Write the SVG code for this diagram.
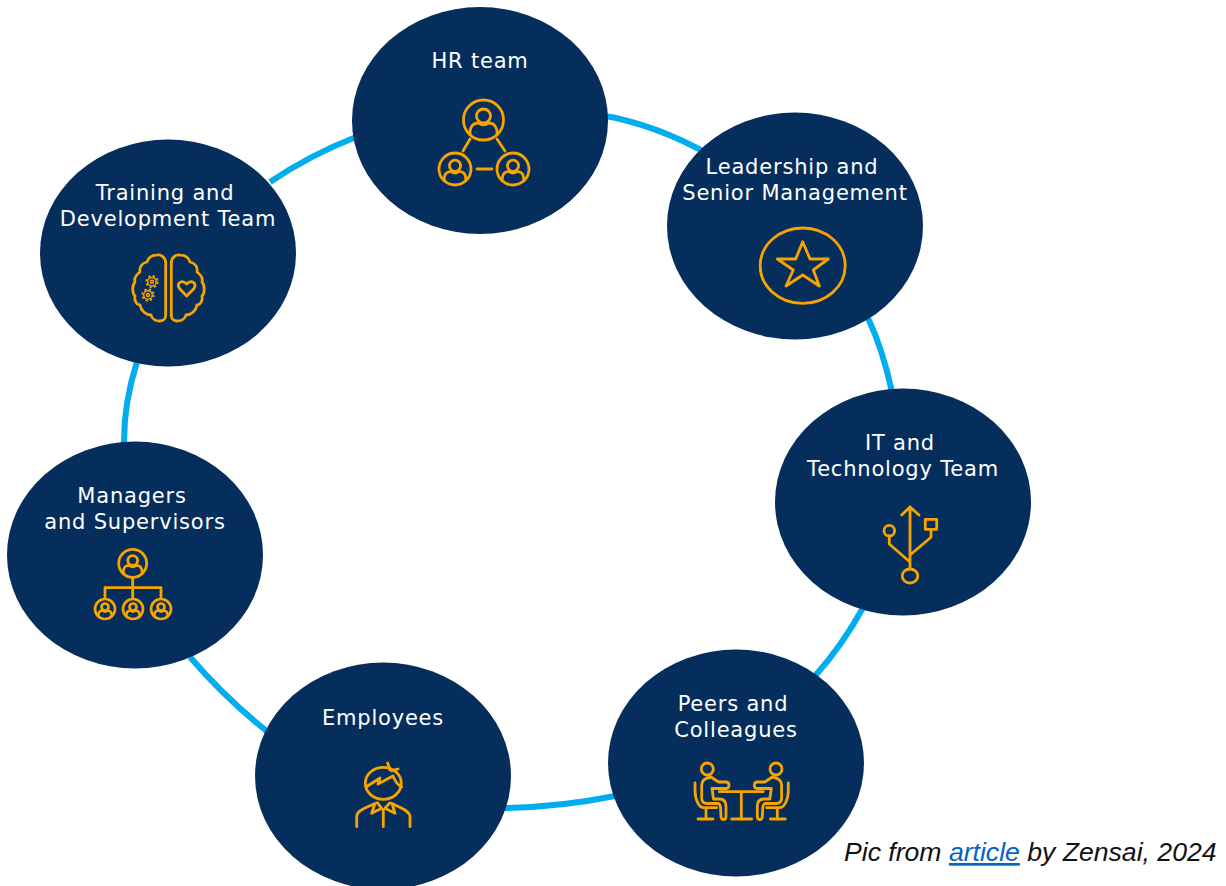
<svg xmlns="http://www.w3.org/2000/svg" width="1226" height="886" viewBox="0 0 1226 886">
<style>
.n{fill:#052E5C}
.t{font-family:"DejaVu Sans","Open Sans","Liberation Sans",sans-serif;font-size:21px;letter-spacing:.8px;fill:#fff;text-anchor:middle}
.i{fill:none;stroke:#F5A400;stroke-width:2.800;stroke-linecap:round;stroke-linejoin:round}
.c{fill:none;stroke:#00AEEF;stroke-width:6}
.cap{font-family:"Liberation Sans",Arial,sans-serif;font-style:italic;font-size:26.600px;fill:#111}
.lnk{fill:#0563C1;text-decoration:underline}
</style>
<defs>
<g id="person"><circle r="20"/><circle cy="-4" r="7"/><path d="M-13.500,14.500C-14,6-10,3-5,3C-2,5.500 2,5.500 5,3C10,3 14,6 13.500,14.500"/></g>
<g id="hemi"><path d="M165.700,315V263C165.700,257 161,254.500 157,255C152,255 148,258 147,262C142,263 139,267 140,272C136,275 134,279 135,282C132,285 132,293 135,296C134,301 137,305 140,305C141,311 146,315 151,315C152,319 156,321 160,321C164,321 165.700,318 165.700,315Z"/></g>
<g id="sitter"><circle cx="707.300" cy="769" r="6"/><path d="M695,783V790C695,800 699,807.700 704,807.700H716.700M706,808V819M698,819H713"/><path d="M711,777C705,778 701.700,780 701.700,785V798C701.700,802 704,803.500 707,803.500H718C719.500,803.500 720,805 720.500,807L721,817C721.500,820 723,819.500 724,819.500C725.500,819.500 726,818 726,816V806C726,801 723,799 719,799H713.500L712,788.500H726C730,788.500 730,782 726,782H718.500Z"/></g>
<g id="gear" stroke-width="1.500"><circle r="1.500"/><circle r="4.300"/><circle r="5.800" stroke-width="1.700" stroke-dasharray="2.280" stroke-linecap="butt"/></g>
</defs>
<g id="connectors">
<path class="c" d="M600,115Q655,124 710,155"/>
<path class="c" d="M868,318Q883,350 892,392"/>
<path class="c" d="M864,606Q842,646 815,676"/>
<path class="c" d="M615,796Q560,807 505,808"/>
<path class="c" d="M268,732Q226,699 190,657"/>
<path class="c" d="M124,442Q124,402 137,362"/>
<path class="c" d="M270,182Q310,155 356,137"/>
</g>
<g id="hr"><ellipse class="n" cx="480" cy="120.500" rx="128" ry="113.500"/><text class="t" x="480" y="68">HR team</text>
<g class="i"><use href="#person" transform="translate(483.500,120)"/><use href="#person" stroke-width="3.500" transform="translate(455,169) scale(.8)"/><use href="#person" stroke-width="3.500" transform="translate(513,169) scale(.8)"/><path d="M470,139L463,151M497,139L505,151M477,169H492"/></g></g>
<g id="leadership"><ellipse class="n" cx="795" cy="226" rx="128" ry="113.500"/><text class="t" x="792" y="174">Leadership and</text><text class="t" x="795" y="200">Senior Management</text>
<g class="i" stroke-width="2.200"><ellipse cx="802.700" cy="265.700" rx="42.500" ry="37.700"/><path d="M802.700,241.700L810,259H828.300L813.300,270L819.300,286L802.700,275L786,286L793.300,270L777.300,259H795.700Z"/></g></g>
<g id="it"><ellipse class="n" cx="903" cy="502" rx="128" ry="113.500"/><text class="t" x="900" y="450">IT and</text><text class="t" x="903" y="476">Technology Team</text>
<g class="i"><path d="M910,507V568M901.700,515L910,507L919,515M889.300,536V544L910,562M931,529.300V537.300L910,555"/><circle cx="889.300" cy="530.700" r="5.300"/><rect x="925.300" y="519.300" width="11.400" height="10"/><ellipse cx="910" cy="576" rx="7.800" ry="7"/></g></g>
<g id="peers"><ellipse class="n" cx="736" cy="763" rx="128" ry="113.500"/><text class="t" x="733" y="711">Peers and</text><text class="t" x="736" y="737">Colleagues</text>
<g class="i"><path d="M719.300,791.700H763.300M741.300,791.700V819M731.700,819H751.700"/><use href="#sitter"/><use href="#sitter" transform="translate(1483.300,0) scale(-1,1)"/></g></g>
<g id="employees"><ellipse class="n" cx="383" cy="776" rx="128" ry="113.500"/><text class="t" x="383" y="725">Employees</text>
<g class="i" stroke-width="2.500"><ellipse cx="383.300" cy="783.300" rx="18" ry="16"/><path d="M366,787L380,778L378,784L393,776C395,781 398,785 401.500,787M387.700,763L390,770M398,769L391.700,770.700M356.700,826.700V816.700C356.700,810 368,807 375,803.500L371.700,813.300L381.700,808.300L377.300,802.700M410,826.700V816.700C410,810 398,807 392,803.500L395,813.300L385,808.300L390,802.700M383.300,810V826.700"/></g></g>
<g id="managers"><ellipse class="n" cx="135" cy="555" rx="128" ry="113.500"/><text class="t" x="132" y="503">Managers</text><text class="t" x="135" y="529">and Supervisors</text>
<g class="i"><use href="#person" stroke-width="4" transform="translate(132.700,563.300) scale(.7)"/><use href="#person" stroke-width="5.400" transform="translate(105,609) scale(.5)"/><use href="#person" stroke-width="5.400" transform="translate(133,609) scale(.5)"/><use href="#person" stroke-width="5.400" transform="translate(161,609) scale(.5)"/><path d="M132.700,578V597M105,597V587.700H161V597"/></g></g>
<g id="training"><ellipse class="n" cx="168" cy="253" rx="128" ry="113.500"/><text class="t" x="165" y="200">Training and</text><text class="t" x="168" y="226">Development Team</text>
<g class="i" stroke-width="2.400"><use href="#hemi"/><use href="#hemi" transform="translate(337,0) scale(-1,1)"/><use href="#gear" transform="translate(152,281.700)"/><use href="#gear" transform="translate(148,295)"/><path d="M186.700,296L179.500,288.500C176,283 182,279 186.700,284C191,279 197.500,283 194,288.500Z"/></g></g>
<text class="cap" x="844" y="861">Pic from <tspan class="lnk">article</tspan> by Zensai, 2024</text>
</svg>
